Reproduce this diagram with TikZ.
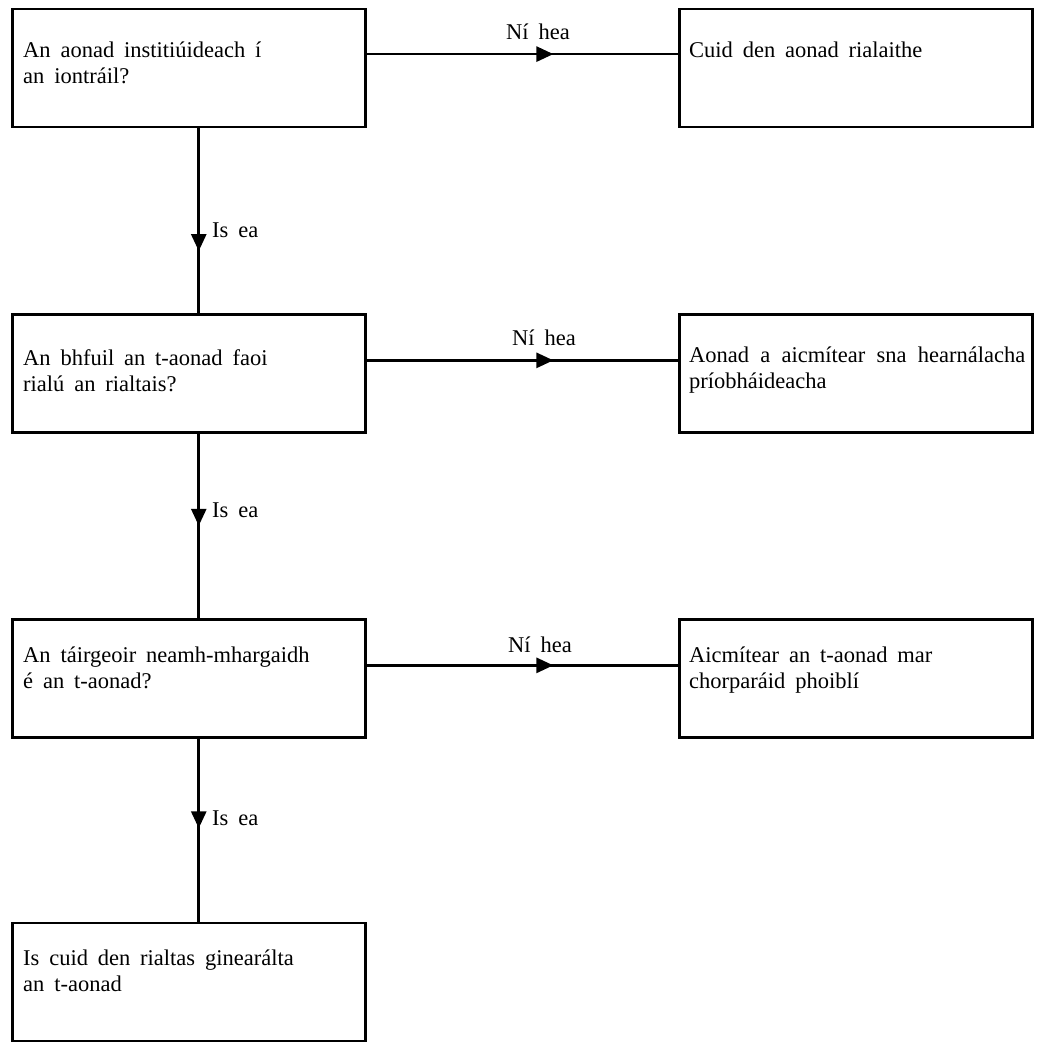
\documentclass[tikz,border=0pt]{standalone}
\usepackage{fontspec}
\setmainfont{Liberation Serif}[WordSpace=1.75]
\usetikzlibrary{arrows.meta,decorations.markings}
\tikzset{
  box/.style={draw, line width=2.8pt, minimum width=353pt, minimum height=118pt, inner sep=0pt},
  txt/.style={anchor=base west, inner sep=0pt, font=\fontsize{22.5pt}{26pt}\selectfont},
  lbl/.style={inner sep=0pt, font=\fontsize{22.5pt}{26pt}\selectfont},
  conn/.style={line width=2.8pt, postaction={decorate},
    decoration={markings, mark=at position #1 with {\arrow{Triangle[length=17pt,width=15pt]}}}},
}
\newcommand{\boxtext}[1]{\parbox[t]{340pt}{\raggedright #1}}
\begin{document}
\begin{tikzpicture}[x=1pt,y=-1pt]
\useasboundingbox (0,0) rectangle (1040,1049);
% boxes
\node[box] (q1) at (188.75,68) {};
\node[box] (r1) at (855.75,68) {};
\node[box] (q2) at (188.75,373.25) {};
\node[box] (r2) at (855.75,373.25) {};
\node[box] (q3) at (188.75,678.25) {};
\node[box] (r3) at (855.75,678.25) {};
\node[box] (e)  at (188.75,982) {};
% texts
\node[txt] (tq1) at (23,57) {\boxtext{An aonad institiúideach í\\an iontráil?}};
\node[txt] (tr1) at (689,57) {\boxtext{Cuid den aonad rialaithe}};
\node[txt] (tq2) at (23,365) {\boxtext{An bhfuil an t-aonad faoi\\rialú an rialtais?}};
\node[txt] (tr2) at (689,362) {\boxtext{\makebox[336pt][s]{Aonad a aicmítear sna hearnálacha}\\príobháideacha}};
\node[txt] (tq3) at (23,662) {\boxtext{An táirgeoir neamh-mhargaidh\\é an t-aonad?}};
\node[txt] (tr3) at (689,662) {\boxtext{Aicmítear an t-aonad mar\\chorparáid phoiblí}};
\node[txt] (te) at (23,965) {\boxtext{Is cuid den rialtas ginearálta\\an t-aonad}};
% horizontal connectors
\draw[conn=0.6] ([yshift=-46.5pt]q1.north east) -- ([yshift=-46.5pt]r1.north west);
\draw[conn=0.6] ([yshift=-47.5pt]q2.north east) -- ([yshift=-47.5pt]r2.north west);
\draw[conn=0.6] ([yshift=-47.5pt]q3.north east) -- ([yshift=-47.5pt]r3.north west);
% vertical connectors
\draw[conn=0.665] ([xshift=10pt]q1.south) -- ([xshift=10pt]q2.north);
\draw[conn=0.5] ([xshift=10pt]q2.south) -- ([xshift=10pt]q3.north);
\draw[conn=0.49] ([xshift=10pt]q3.south) -- ([xshift=10pt]e.north);
% labels
\node[lbl, anchor=base] (n1) at (538,40) {Ní hea};
\node[lbl, anchor=base] (n2) at (544,345) {Ní hea};
\node[lbl, anchor=base] (n3) at (540,652) {Ní hea};
\node[lbl, anchor=base west] (y1) at (212,237) {Is ea};
\node[lbl, anchor=base west] (y2) at (212,517) {Is ea};
\node[lbl, anchor=base west] (y3) at (212,825) {Is ea};
\end{tikzpicture}
\end{document}
